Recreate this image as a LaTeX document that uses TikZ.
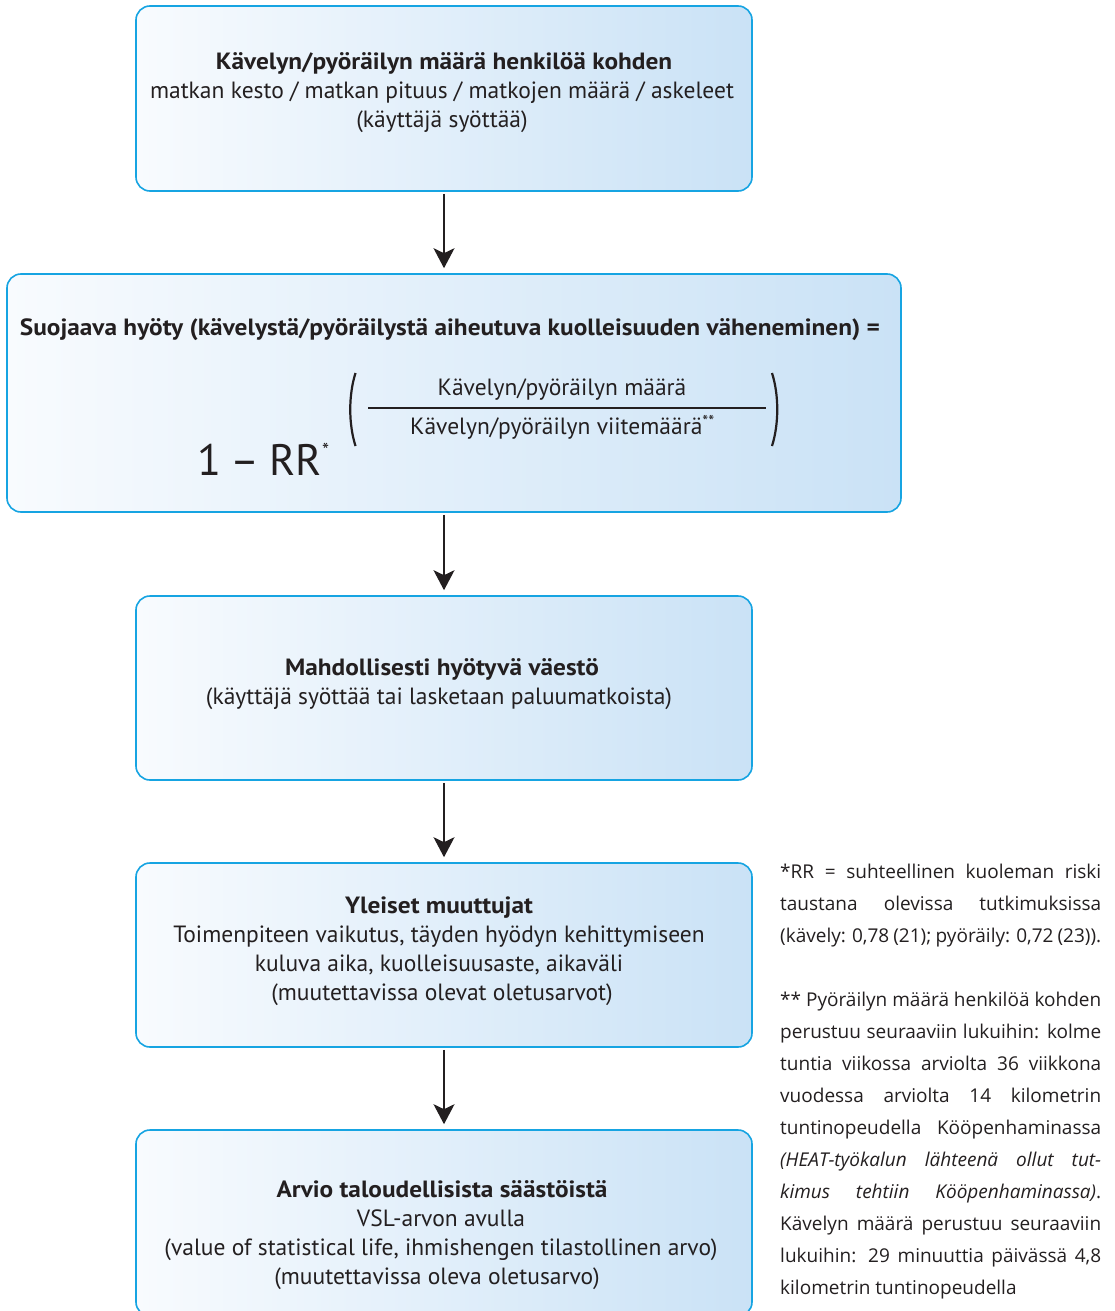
\documentclass[tikz,border=0pt]{standalone}
\usepackage{fontspec}
\setmainfont{PT Sans}[BoldFeatures={FakeStretch=1.077}]
\newfontfamily\notefont{Open Sans}
\usetikzlibrary{arrows.meta,backgrounds}
\definecolor{boxleft}{RGB}{248,251,254}
\definecolor{boxright}{RGB}{202,226,246}
\definecolor{boxline}{RGB}{22,164,226}
\definecolor{ink}{RGB}{35,31,32}
\newcommand{\bxfont}{\fontsize{23.5}{29}\selectfont}
\newcommand{\jline}[1]{\makebox[\linewidth][s]{#1}\par}
\begin{document}
\begin{tikzpicture}[x=1pt,y=1pt,
  box/.style={draw=boxline, line width=1.6pt, rounded corners=14pt,
    left color=boxleft, right color=boxright, inner sep=0pt},
  txt/.style={anchor=base, inner sep=0pt, text=ink, font=\bxfont},
  tbold/.style={txt, font=\bxfont\bfseries},
  flow/.style={draw=ink, line width=1.6pt, -{Stealth[length=20pt,width=21pt,inset=5pt]},
    shorten <=2pt, shorten >=5pt}]
\useasboundingbox (0,0) rectangle (1115,-1311);
\clip (0,0) rectangle (1115,-1311);
\fill[white] (0,0) rectangle (1115,-1311);

% boxes
\node[box, minimum width=616pt, minimum height=185pt] (b1) at (444,-98.5) {};
\node[box, minimum width=894pt, minimum height=238pt] (b2) at (454,-393) {};
\node[box, minimum width=616pt, minimum height=184pt] (b3) at (444,-688) {};
\node[box, minimum width=616pt, minimum height=184pt] (b4) at (444,-955) {};
\node[box, minimum width=616pt, minimum height=186pt] (b5) at (444,-1223) {};

% soft shadows
\begin{scope}[on background layer]
\foreach \n in {b1,b2,b3,b4,b5}{
  \foreach \i in {0,...,8}{
    \fill[black, opacity=0.045, rounded corners=14pt]
      ([shift={(4-\i,-6+\i)}]\n.north west) rectangle ([shift={(4+\i,-6-\i)}]\n.south east);
  }
}
\end{scope}

% box 1
\node[tbold] (t1a) at (444,-70) {Kävelyn/pyöräilyn määrä henkilöä kohden};
\node[txt] (t1b) at (442,-99) {matkan kesto / matkan pituus / matkojen määrä / askeleet};
\node[txt] (t1c) at (442,-128) {(käyttäjä syöttää)};

% box 2
\node[tbold] (t2a) at (450,-335) {Suojaava hyöty (kävelystä/pyöräilystä aiheutuva kuolleisuuden väheneminen) =};
\node[txt] (t2num) at (562,-395) {Kävelyn/pyöräilyn määrä};
\node[txt, anchor=base west] (t2den) at (410,-434) {Kävelyn/pyöräilyn viitemäärä\rlap{\raisebox{7pt}{\fontsize{17}{17}\selectfont **}}};
\node[txt, anchor=base west, font=\fontsize{44}{44}\selectfont] (t2rr) at (197,-475)
  {1\hspace{-2pt} – \hspace{-2pt}RR\rlap{\raisebox{18pt}{\fontsize{20}{20}\selectfont *}}};
\draw[ink, line width=2.6pt] (368,-408) -- (766,-408);
\draw[ink, line width=2.2pt] (355.5,-373) .. controls (348.5,-395) and (348.5,-424) .. (355.5,-446);
\draw[ink, line width=2.2pt] (772,-373) .. controls (779,-395) and (779,-424) .. (772,-446);

% box 3
\node[tbold] (t3a) at (442,-675) {Mahdollisesti hyötyvä väestö};
\node[txt] (t3b) at (439,-704) {(käyttäjä syöttää tai lasketaan paluumatkoista)};

% box 4
\node[tbold] (t4a) at (439,-913) {Yleiset muuttujat};
\node[txt] (t4b) at (439,-942) {Toimenpiteen vaikutus, täyden hyödyn kehittymiseen};
\node[txt] (t4c) at (439,-971) {kuluva aika, kuolleisuusaste, aikaväli};
\node[txt] (t4d) at (442,-1000) {(muutettavissa olevat oletusarvot)};

% box 5
\node[tbold] (t5a) at (442,-1197) {Arvio taloudellisista säästöistä};
\node[txt] (t5b) at (441,-1226) {VSL-arvon avulla};
\node[txt] (t5c) at (441,-1255) {(value of statistical life, ihmishengen tilastollinen arvo)};
\node[txt] (t5d) at (437,-1284) {(muutettavissa oleva oletusarvo)};

% arrows
\draw[flow] (b1.south) -- (b1.south |- b2.north);
\draw[flow] (b3.north |- b2.south) -- (b3.north);
\draw[flow] (b3.south) -- (b4.north);
\draw[flow] (b4.south) -- (b5.north);

% footnotes
\node[anchor=base west, inner sep=0pt, text=ink] (notes) at (780,-878) {\parbox[t]{321pt}{%
  \notefont\fontsize{19}{32}\selectfont\parindent=0pt
  \jline{*RR = suhteellinen kuoleman riski}
  \jline{taustana olevissa tutkimuksissa}
  \jline{(kävely: 0,78 (21); pyöräily: 0,72 (23)).}
  \mbox{}\par
  \jline{** Pyöräilyn määrä henkilöä kohden}
  \jline{perustuu seuraaviin lukuihin: kolme}
  \jline{tuntia viikossa arviolta 36 viikkona}
  \jline{vuodessa arviolta 14 kilometrin}
  \jline{tuntinopeudella Kööpenhaminassa}
  \jline{\textit{(HEAT-työkalun lähteenä ollut tut-}}
  \jline{\textit{kimus tehtiin Kööpenhaminassa)}.}
  \jline{Kävelyn määrä perustuu seuraaviin}
  \jline{lukuihin: 29 minuuttia päivässä 4,8}
  kilometrin tuntinopeudella\par}};
\end{tikzpicture}
\end{document}
